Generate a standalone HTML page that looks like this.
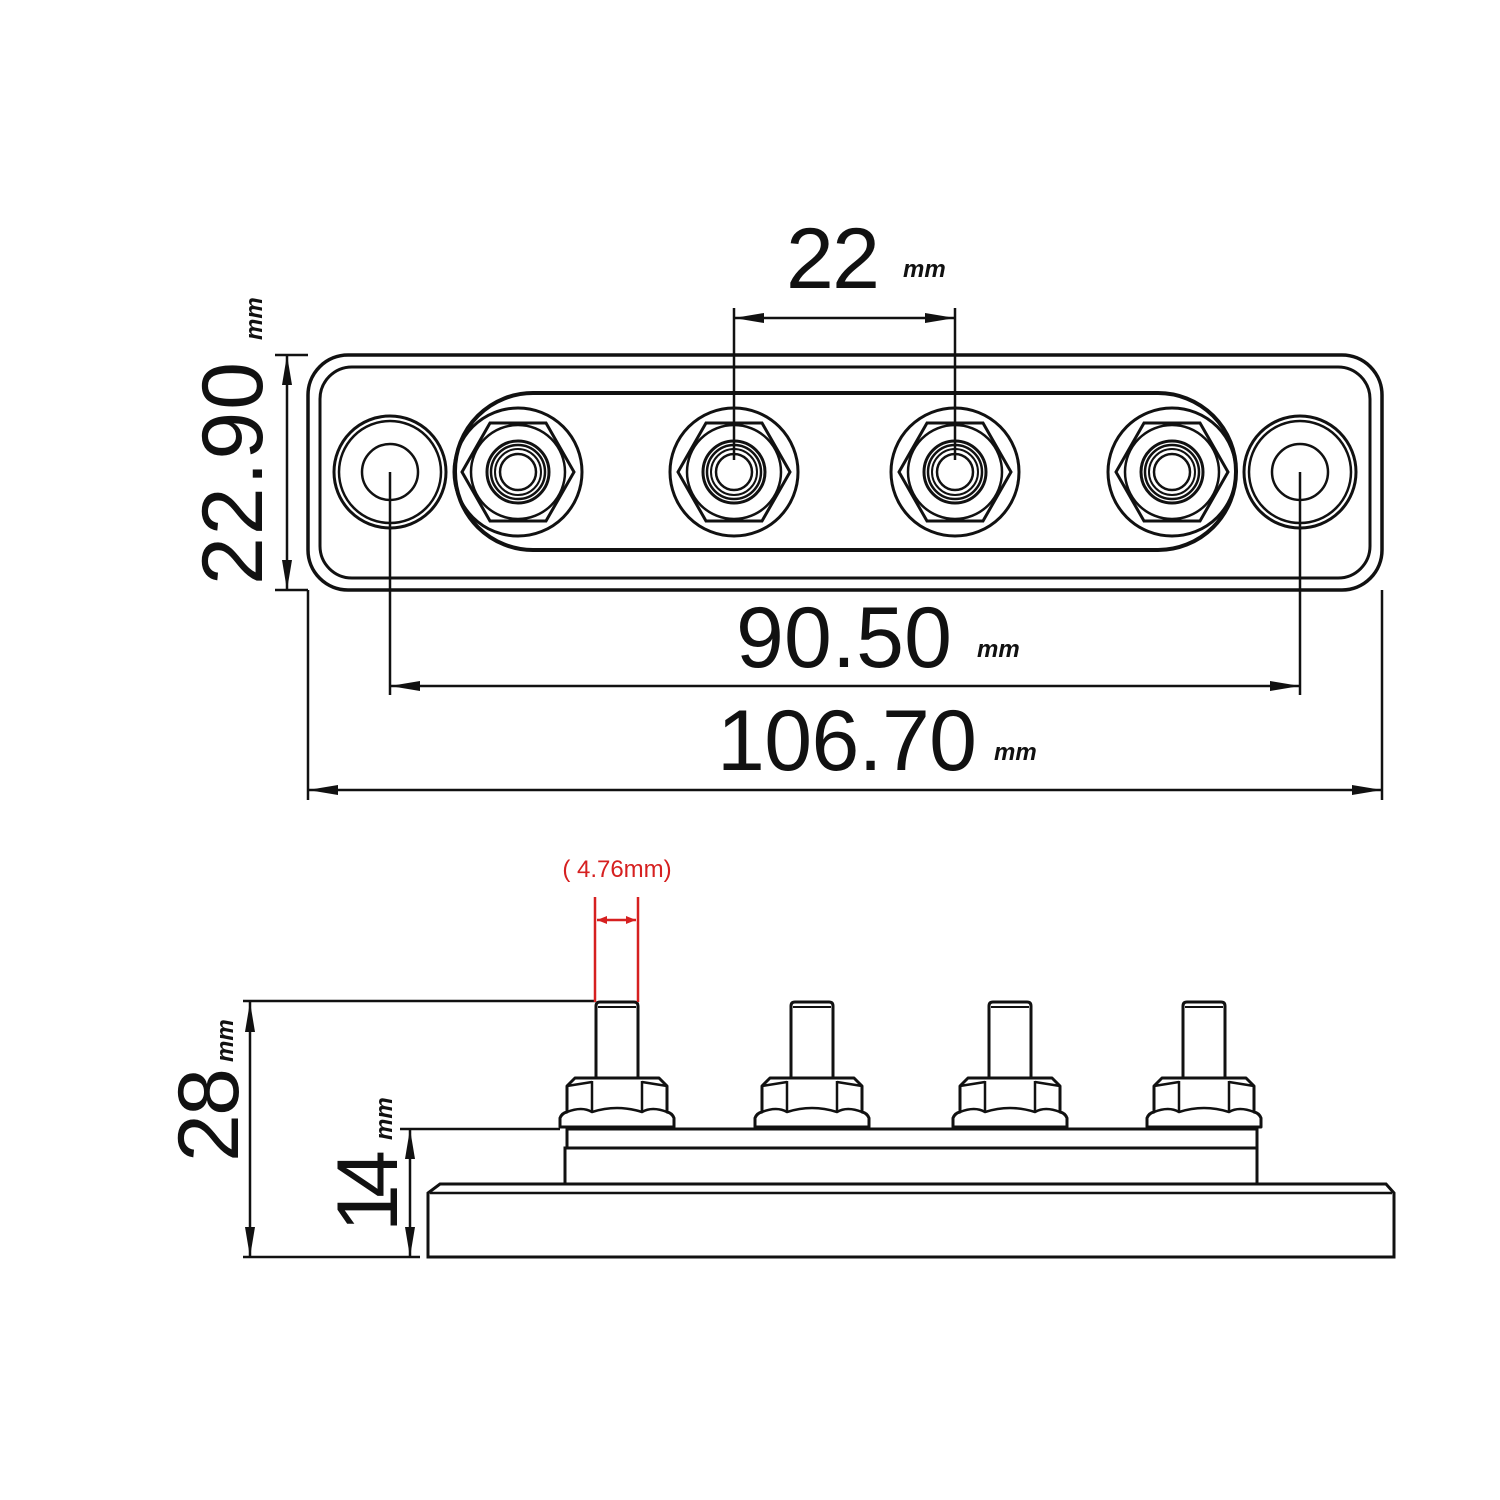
<!DOCTYPE html>
<html><head><meta charset="utf-8"><style>html,body{margin:0;padding:0;background:#fff}svg{display:block}</style></head><body>
<svg width="1500" height="1500" viewBox="0 0 1500 1500" xmlns="http://www.w3.org/2000/svg" font-family="Liberation Sans, sans-serif">
<defs>
<marker id="a" viewBox="0 0 30 10" refX="30" refY="5" markerWidth="30" markerHeight="10" markerUnits="userSpaceOnUse" orient="auto-start-reverse"><path d="M0,0 L30,5 L0,10 Z" fill="#111"/></marker>
<marker id="r" viewBox="0 0 10 8" refX="10" refY="4" markerWidth="10" markerHeight="8" markerUnits="userSpaceOnUse" orient="auto-start-reverse"><path d="M0,0 L10,4 L0,8 Z" fill="#d62020"/></marker>
<g id="term">
<circle r="64" fill="none" stroke="#111" stroke-width="3"/>
<polygon points="-56,0 -28,-49 28,-49 56,0 28,49 -28,49" fill="none" stroke="#111" stroke-width="3"/>
<circle r="47" fill="none" stroke="#111" stroke-width="2.5"/>
<circle r="31" fill="none" stroke="#111" stroke-width="3"/>
<circle r="27" fill="none" stroke="#111" stroke-width="2.5"/>
<circle r="23" fill="none" stroke="#111" stroke-width="2"/>
<circle r="18" fill="none" stroke="#111" stroke-width="2.5"/>
</g>
<g id="ring">
<circle r="56" fill="none" stroke="#111" stroke-width="3"/>
<circle r="51" fill="none" stroke="#111" stroke-width="2.5"/>
<circle r="28" fill="none" stroke="#111" stroke-width="2.5"/>
</g>
<g id="stud" fill="#fff" stroke="#111" stroke-width="3" stroke-linejoin="round">
<path d="M-21,1078 L-21,1006 Q-21,1002 -17,1002 L17,1002 Q21,1002 21,1006 L21,1078"/>
<line x1="-19" y1="1007" x2="19" y2="1007" stroke-width="2"/>
<path d="M-57,1127 L-57,1118 Q-55,1113 -50,1112 L-50,1086 L-42,1078 L42,1078 L50,1086 L50,1112 Q55,1113 57,1118 L57,1127 Z"/>
<path d="M-50,1086 L-25,1082 M50,1086 L25,1082 M-50,1112 Q-35,1106 -25,1112 Q0,1104 25,1112 Q35,1106 50,1112" fill="none" stroke-width="2.5"/>
<line x1="-25" y1="1081" x2="-25" y2="1112" stroke-width="2.5"/>
<line x1="25" y1="1081" x2="25" y2="1112" stroke-width="2.5"/>
</g>
</defs>

<rect x="308" y="355" width="1074" height="235" rx="40" fill="none" stroke="#111" stroke-width="3.5"/>
<rect x="320" y="367" width="1050" height="211" rx="32" fill="none" stroke="#111" stroke-width="3"/>
<rect x="455" y="393" width="781" height="157" rx="78" fill="none" stroke="#111" stroke-width="4"/>
<use href="#ring" x="390" y="472"/>
<use href="#ring" x="1300" y="472"/>
<use href="#term" x="518" y="472"/>
<use href="#term" x="734" y="472"/>
<use href="#term" x="955" y="472"/>
<use href="#term" x="1172" y="472"/>

<g stroke="#111" stroke-width="2.5" fill="none">
<line x1="734" y1="308" x2="734" y2="460"/>
<line x1="955" y1="308" x2="955" y2="460"/>
<line x1="734" y1="318" x2="955" y2="318" marker-start="url(#a)" marker-end="url(#a)"/>
<line x1="275" y1="355" x2="308" y2="355"/>
<line x1="275" y1="590" x2="308" y2="590"/>
<line x1="287" y1="355" x2="287" y2="590" marker-start="url(#a)" marker-end="url(#a)"/>
<line x1="390" y1="472" x2="390" y2="695"/>
<line x1="1300" y1="472" x2="1300" y2="695"/>
<line x1="390" y1="686" x2="1300" y2="686" marker-start="url(#a)" marker-end="url(#a)"/>
<line x1="308" y1="590" x2="308" y2="800"/>
<line x1="1382" y1="590" x2="1382" y2="800"/>
<line x1="308" y1="790" x2="1382" y2="790" marker-start="url(#a)" marker-end="url(#a)"/>
</g>

<text x="786" y="288" font-size="86" textLength="94" fill="#111">22</text>
<text x="903" y="277" font-size="24" font-weight="bold" font-style="italic" fill="#111">mm</text>
<text x="736" y="667" font-size="86" textLength="216" fill="#111">90.50</text>
<text x="977" y="657" font-size="24" font-weight="bold" font-style="italic" fill="#111">mm</text>
<text x="717" y="770" font-size="86" textLength="260" fill="#111">106.70</text>
<text x="994" y="760" font-size="24" font-weight="bold" font-style="italic" fill="#111">mm</text>
<text transform="translate(262,585) rotate(-90)" font-size="86" textLength="223" fill="#111">22.90</text>
<text transform="translate(262,340) rotate(-90)" font-size="24" font-weight="bold" font-style="italic" fill="#111">mm</text>

<g fill="#fff" stroke="#111" stroke-width="3">
<path d="M428,1257 L428,1193 L440,1184 L1386,1184 L1394,1193 L1394,1257 Z"/>
<line x1="430" y1="1193" x2="1392" y2="1193" stroke-width="2.5"/>
<rect x="565" y="1148" width="692" height="36"/>
<rect x="567" y="1129" width="690" height="19"/>
</g>
<use href="#stud" x="617"/>
<use href="#stud" x="812"/>
<use href="#stud" x="1010"/>
<use href="#stud" x="1204"/>

<g stroke="#111" stroke-width="2.5" fill="none">
<line x1="243" y1="1001" x2="595" y2="1001"/>
<line x1="243" y1="1257" x2="420" y2="1257"/>
<line x1="250" y1="1002" x2="250" y2="1257" marker-start="url(#a)" marker-end="url(#a)"/>
<line x1="400" y1="1129" x2="560" y2="1129"/>
<line x1="410" y1="1129" x2="410" y2="1257" marker-start="url(#a)" marker-end="url(#a)"/>
</g>
<text transform="translate(238,1162) rotate(-90)" font-size="86" textLength="94" fill="#111">28</text>
<text transform="translate(233,1062) rotate(-90)" font-size="24" font-weight="bold" font-style="italic" fill="#111">mm</text>
<text transform="translate(397,1232) rotate(-90)" font-size="86" textLength="82" fill="#111">14</text>
<text transform="translate(392,1140) rotate(-90)" font-size="24" font-weight="bold" font-style="italic" fill="#111">mm</text>

<g stroke="#d62020" stroke-width="2.5" fill="none">
<line x1="595" y1="897" x2="595" y2="1002"/>
<line x1="638" y1="897" x2="638" y2="1002"/>
<line x1="597" y1="920" x2="636" y2="920" marker-start="url(#r)" marker-end="url(#r)"/>
</g>
<text x="617" y="877" font-size="24" text-anchor="middle" fill="#d62020">( 4.76mm)</text>
</svg>
</body></html>
